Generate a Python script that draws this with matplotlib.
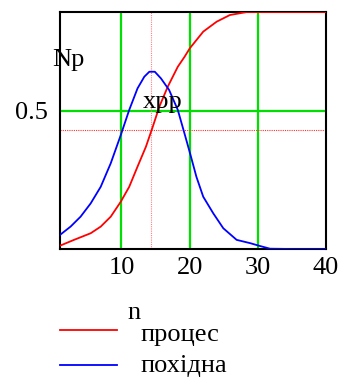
import matplotlib
matplotlib.use("Agg")
import matplotlib.pyplot as plt
from matplotlib.lines import Line2D

# Data
x_proc = [1, 3.05, 5.5, 6.97, 8.44, 9.91, 11.15, 12.37, 13.6, 14.6, 15.57, 16.8, 18.27, 19.26, 20.04, 22.0, 23.97, 25.9, 28.4, 30, 35, 40]
y_proc = [0.012, 0.033, 0.057, 0.081, 0.117, 0.171, 0.225, 0.298, 0.37, 0.442, 0.515, 0.587, 0.659, 0.695, 0.726, 0.786, 0.822, 0.846, 0.857, 0.857, 0.857, 0.857]

x_der = [1, 2.55, 4.02, 5.5, 6.97, 8.44, 9.91, 11.15, 12.37, 13.36, 14.1, 14.9, 15.8, 17.0, 18.27, 19.25, 20.2, 21.0, 22.0, 23.47, 24.94, 26.9, 28.9, 30.3, 31.8, 35, 40]
y_der = [0.051, 0.081, 0.117, 0.165, 0.225, 0.31, 0.412, 0.503, 0.581, 0.623, 0.641, 0.641, 0.617, 0.575, 0.503, 0.418, 0.334, 0.261, 0.189, 0.129, 0.075, 0.033, 0.021, 0.011, 0.001, 0.0, 0.0]

xpp = 14.3
Np = 0.43
x_ticks = [10, 20, 30, 40]
y_ticks = [0.5]
legend_labels = ["процес", "похідна"]

W, H = 348, 378
fig = plt.figure(figsize=(W / 100, H / 100), dpi=100)
ax = fig.add_axes([60 / W, (H - 249) / H, 266 / W, 237 / H])

serif = ["Liberation Serif", "DejaVu Serif"]
fs = 19

for v in x_ticks[:-1]:
    ax.axvline(v, color="#00e000", lw=1.6, zorder=1)
for v in y_ticks:
    ax.axhline(v, color="#00e000", lw=1.6, zorder=1)

ax.axvline(xpp, color="#ff8080", lw=0.8, ls=(0, (1, 1)), zorder=1.5)
ax.axhline(Np, color="#ff3030", lw=0.8, ls=(0, (1, 1)), zorder=1.5)

ax.plot(x_proc, y_proc, color="red", lw=1.3, zorder=3)
ax.plot(x_der, y_der, color="blue", lw=1.3, zorder=3)

ax.set_xlim(1, 40)
ax.set_ylim(0, 0.857)
ax.set_xticks(x_ticks)
ax.set_yticks(y_ticks)
ax.set_xticklabels([str(t) for t in x_ticks], fontfamily=serif, fontsize=fs)
ax.set_yticklabels(["0.5"], fontfamily=serif, fontsize=fs)
ax.tick_params(axis="x", length=0, pad=6)
ax.tick_params(axis="y", length=0, pad=9)
for s in ax.spines.values():
    s.set_linewidth(1.5)
    s.set_color("black")

def ft(x, y, s, **kw):
    fig.text(x / W, 1 - y / H, s, fontfamily=serif, fontsize=fs, **kw)

ft(52, 66, "Np", va="baseline")
ft(143, 108, "xpp", va="baseline")
ft(127, 319, "n", va="baseline")

fig.add_artist(Line2D([60 / W, 117 / W], [1 - 330 / H, 1 - 330 / H], color="red", lw=1.3))
fig.add_artist(Line2D([60 / W, 117 / W], [1 - 365 / H, 1 - 365 / H], color="blue", lw=1.3))
ft(140, 341, legend_labels[0], va="baseline")
ft(140, 372, legend_labels[1], va="baseline")

fig.savefig("out.png", dpi=100)
